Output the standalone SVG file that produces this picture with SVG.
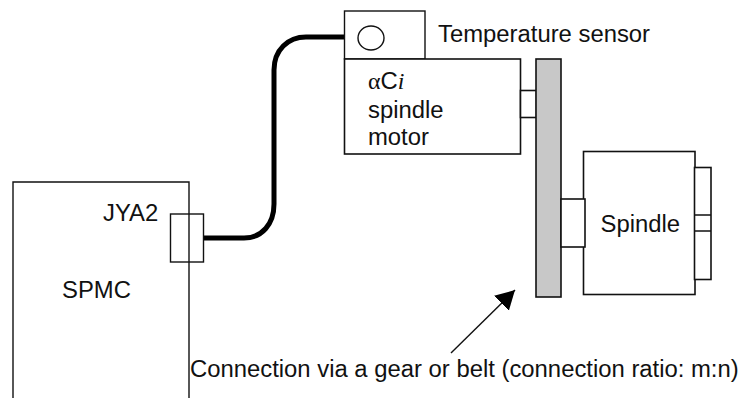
<svg xmlns="http://www.w3.org/2000/svg" width="742" height="398" viewBox="0 0 742 398">
<style>
text{font-family:"Liberation Sans",Arial,sans-serif;font-size:23.85px;fill:#111}
.b{fill:#fff;stroke:#111;stroke-width:1.4}
.b2{fill:#fff;stroke:#111;stroke-width:1.6}
.o{fill:none;stroke:#111;stroke-width:1.4}
</style>
<defs><marker id="ah" markerUnits="userSpaceOnUse" markerWidth="22" markerHeight="24" refX="19" refY="10.500" orient="auto"><path d="M0 0L19 10.500L0 21Z" fill="#000"/></marker></defs>
<rect width="742" height="398" fill="#fff"/>
<g id="spmc"><path class="b" d="M13 398V182H189V398"/><text x="62" y="297.500">SPMC</text><text x="103" y="221">JYA2</text></g>
<g id="connectors">
<path d="M203 238H244C262 238 274 224 274 204V70C274 50 288 37 306 37H344" fill="none" stroke="#000" stroke-width="5"/>
<path d="M451 353L515 290" fill="none" stroke="#111" stroke-width="1.4" marker-end="url(#ah)"/>
</g>
<g id="jya2"><rect class="o" x="170.500" y="214" width="33" height="48"/></g>
<g id="sensor"><rect class="b" x="344.500" y="11" width="80.500" height="48"/><ellipse class="b" cx="371" cy="38" rx="13" ry="12"/><text x="438" y="41.500">Temperature sensor</text></g>
<g id="motor"><rect class="b2" x="344.500" y="59" width="176" height="95"/>
<text x="368" y="89"><tspan font-family="'Liberation Serif',serif">α</tspan>C<tspan font-family="'Liberation Serif',serif" font-style="italic">i</tspan></text>
<text x="368" y="117.500">spindle</text><text x="368" y="144.500">motor</text>
<rect class="b2" x="520.500" y="90.500" width="16" height="27"/></g>
<g id="belt"><rect x="536" y="59" width="25" height="238" fill="#c8c8c8" stroke="#111" stroke-width="1.6"/></g>
<g id="spindle"><rect class="b2" x="583.500" y="151.500" width="111.500" height="143"/>
<rect class="b2" x="561" y="199" width="24" height="48"/>
<rect class="b2" x="694.500" y="167.500" width="16.500" height="112"/>
<path class="o" d="M694.500 215H711M694.500 231H711"/>
<text x="600.500" y="231.500">Spindle</text></g>
<g id="caption"><text x="190" y="377">Connection via a gear or belt (connection ratio: m:n)</text></g>
</svg>
